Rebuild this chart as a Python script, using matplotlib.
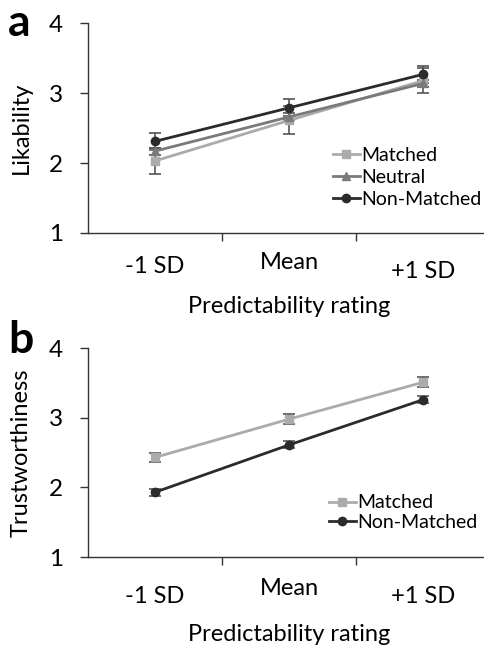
import matplotlib.pyplot as plt
from matplotlib.lines import Line2D
import numpy as np

plt.rcParams['font.family'] = ['Lato', 'DejaVu Sans']

levels = ['-1 SD', 'Mean', '+1 SD']

# panel a: likability
like_matched = [2.03, 2.61, 3.18]
like_matched_err = [0.18, 0.2, 0.18]
like_neutral = [2.17, 2.66, 3.14]
like_neutral_err = [0.05, 0.05, 0.05]
like_nonmatched = [2.31, 2.79, 3.27]
like_nonmatched_err = [0.12, 0.12, 0.12]

# panel b: trustworthiness
trust_matched = [2.43, 2.98, 3.51]
trust_matched_err = [0.07, 0.07, 0.07]
trust_nonmatched = [1.93, 2.61, 3.26]
trust_nonmatched_err = [0.05, 0.05, 0.05]

c_matched = '#ababab'
c_neutral = '#7a7a7a'
c_non = '#2b2b2b'

fig = plt.figure(figsize=(4.85, 6.47), dpi=100)
ax_a = fig.add_axes([0.181, 0.640, 0.83, 0.324])
ax_b = fig.add_axes([0.181, 0.139, 0.83, 0.323])

x = np.arange(3) + 0.5


def draw(ax, series, ylabel, letter, offs, xlab_off, letter_y):
    handles = []
    for y, err, col, mk, lab in series:
        ax.errorbar(x, y, yerr=err, color=col, marker=mk, markersize=6,
                    lw=2, ecolor='#555555', elinewidth=1.2, capsize=4,
                    capthick=1.2)
        handles.append(Line2D([], [], color=col, marker=mk, markersize=6,
                              lw=2, label=lab))
    ax.set_xlim(0, 3)
    ax.set_ylim(1, 4)
    ax.set_yticks([1, 2, 3, 4])
    ax.tick_params(axis='y', labelsize=17.5, length=6, width=1, colors='#333333',
                   labelcolor='black', pad=12)
    ax.set_xticks([1, 2])
    ax.set_xticklabels([])
    ax.tick_params(axis='x', length=6, width=1, colors='#333333')
    for s in ['top', 'right']:
        ax.spines[s].set_visible(False)
    for s in ['left', 'bottom']:
        ax.spines[s].set_color('#333333')
        ax.spines[s].set_linewidth(1)
    ax.set_ylabel(ylabel, fontsize=17)
    ax.yaxis.set_label_coords(-0.14, 0.5)
    for xi, lab, o in zip(x, levels, offs):
        ax.text(xi, o, lab, transform=ax.get_xaxis_transform(),
                ha='center', va='center', fontsize=17)
    ax.text(0.5, xlab_off, 'Predictability rating', transform=ax.transAxes,
            ha='center', va='center', fontsize=17)
    ax.text(-0.198, letter_y, letter, transform=ax.transAxes, fontsize=32,
            fontweight='bold', ha='left', va='center')
    return handles


h = draw(ax_a, [
    (like_matched, like_matched_err, c_matched, 's', 'Matched'),
    (like_neutral, like_neutral_err, c_neutral, '^', 'Neutral'),
    (like_nonmatched, like_nonmatched_err, c_non, 'o', 'Non-Matched'),
], 'Likability', 'a', [-0.16, -0.14, -0.185], -0.35, 1.0)
ax_a.legend(handles=h, loc='upper left', bbox_to_anchor=(0.61, 0.41),
            frameon=False, fontsize=14, handlelength=1.35, handletextpad=0.1,
            labelspacing=0.25, borderaxespad=0, borderpad=0)

h = draw(ax_b, [
    (trust_matched, trust_matched_err, c_matched, 's', 'Matched'),
    (trust_nonmatched, trust_nonmatched_err, c_non, 'o', 'Non-Matched'),
], 'Trustworthiness', 'b', [-0.19, -0.15, -0.19], -0.37, 1.04)
ax_b.legend(handles=h, loc='upper left', bbox_to_anchor=(0.60, 0.30),
            frameon=False, fontsize=14, handlelength=1.35, handletextpad=0.1,
            labelspacing=0.15, borderaxespad=0, borderpad=0)

fig.savefig('out.png', dpi=100)
